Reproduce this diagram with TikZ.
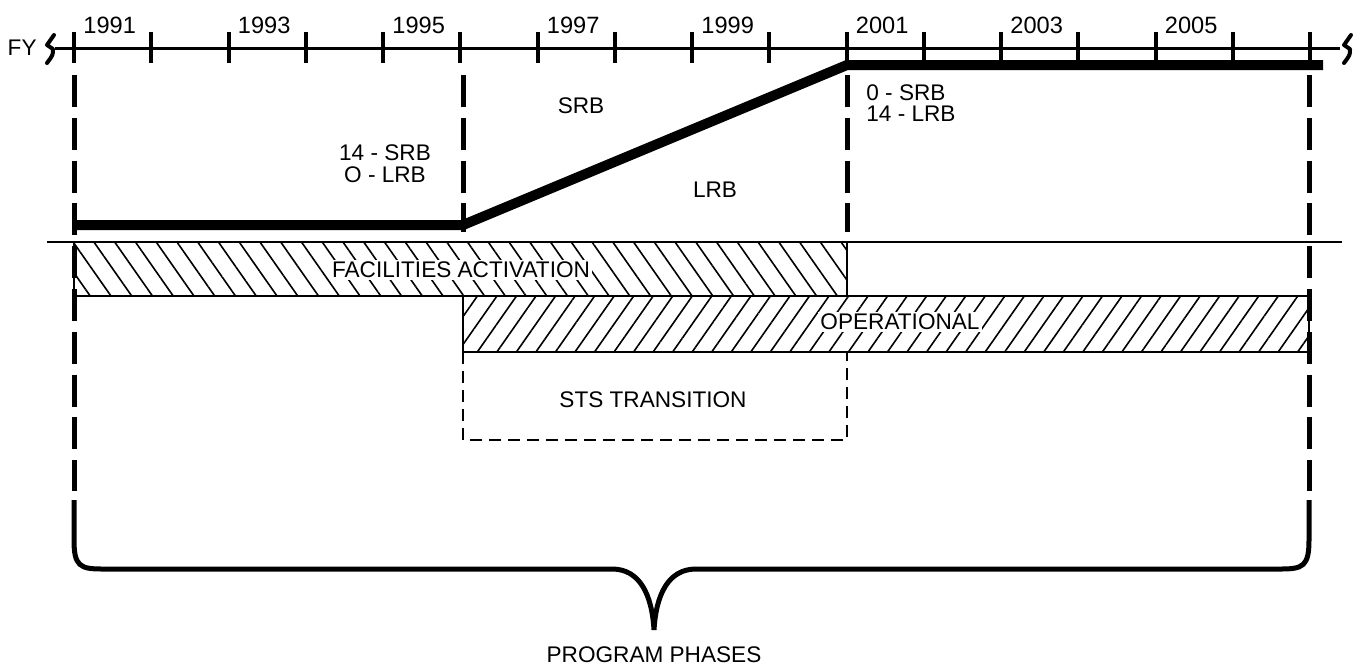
\documentclass[tikz,border=0pt]{standalone}
\usepackage{fontspec}
\setmainfont{Liberation Sans}
\usetikzlibrary{patterns.meta}

\begin{document}
\begin{tikzpicture}[x=0.5pt, y=-0.5pt,
  every node/.style={font=\fontsize{11.3}{13}\selectfont, inner sep=1pt},
  phase/.style={line width=2.5pt, dash pattern=on 16pt off 5.4pt},
  hatchbox/.style={draw, line width=1pt},
  brk/.style={line width=2pt, line cap=round, line join=round}]
  \useasboundingbox (0,0) rectangle (1370,671);
  % fiscal year axis
  \node[anchor=east] (fy) at (39,48) {FY};
  \draw[brk] (54,35) -- (47,45) -- (53,49) .. controls (53,55) .. (47,63);
  \draw[brk] (1351,35) -- (1344,45) -- (1350,49) .. controls (1350,55) .. (1344,63);
  \draw[line width=1.5pt] (55,48) -- (1340,48);
  \foreach \i in {0,...,16} {
    \draw[line width=2pt] (74+77.25*\i,32) -- (74+77.25*\i,63);
  }
  \foreach \i in {0,2,...,14} {
    \pgfmathtruncatemacro\yr{1991+\i}
    \node[anchor=base west, font=\fontsize{11.8}{13}\selectfont] (yr\i) at (81+77.25*\i,33) {\yr};
  }
  % dashed phase limits
  \draw[phase] (74,75) -- (74,491);
  \draw[phase] (463,75) -- (463,232);
  \draw[phase] (847,75) -- (847,232);
  \draw[phase] (1309,75) -- (1309,491);
  % booster mix
  \draw[line width=5pt] (74,225) -- (463,225) -- (847,65) -- (1323,65);
  \node (srb) at (581,106) {SRB};
  \node (lrb) at (715,190) {LRB};
  \node[align=center, font=\fontsize{11.3}{11}\selectfont] (mixA) at (385,164)
    {14 - SRB\\O - LRB};
  \node[align=left, anchor=west, font=\fontsize{11.3}{10.6}\selectfont] (mixB) at (864,103)
    {0 - SRB\\14 - LRB};
  % phase bars
  \draw[line width=1pt] (47,242) -- (1342,242);
  \draw[hatchbox, pattern={Lines[angle=-55,distance=8.5pt,line width=0.8pt]}]
    (74,242) rectangle (847,296);
  \draw[hatchbox, pattern={Lines[angle=55,distance=8pt,line width=0.8pt]}]
    (463,296) rectangle (1309,352);
  \node[fill=white] (fac) at (461,270) {FACILITIES ACTIVATION};
  \node[fill=white] (ops) at (900,322) {OPERATIONAL};
  \draw[line width=1pt, dash pattern=on 6pt off 3.5pt]
    (463,352) -- (463,440) -- (847,440) -- (847,352);
  \node (sts) at (653,400) {STS TRANSITION};
  % program phases brace
  \draw[line width=2.5pt] (74,500) -- (74,540)
    .. controls (74,566) and (80,569) .. (102,569) -- (612,569)
    .. controls (640,569) and (652,595) .. (654,630)
    .. controls (656,595) and (668,569) .. (696,569) -- (1281,569)
    .. controls (1303,569) and (1309,566) .. (1309,540) -- (1309,500);
  \node (prog) at (654,655) {PROGRAM PHASES};
\end{tikzpicture}
\end{document}
